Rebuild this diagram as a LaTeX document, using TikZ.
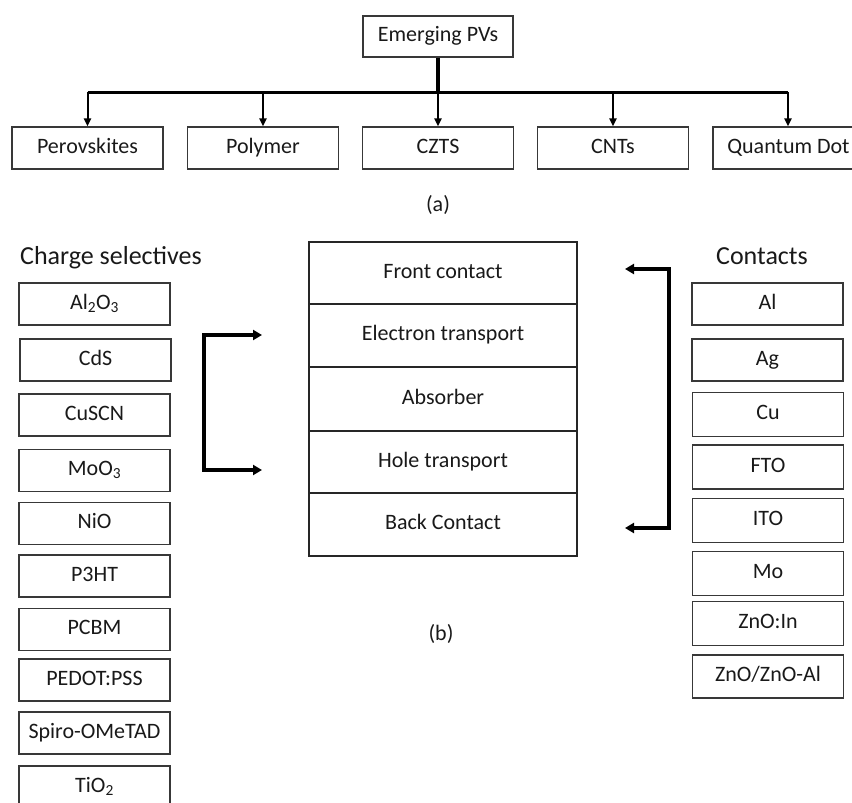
\documentclass[tikz,border=0pt]{standalone}
\usepackage{fontspec}
\setmainfont{Carlito}
\usetikzlibrary{arrows.meta}
\newcommand{\fsbox}{\fontsize{22}{26}\selectfont}
\newcommand{\fshead}{\fontsize{26}{30}\selectfont}
\begin{document}
\begin{tikzpicture}[x=1pt,y=-1pt,
  box/.style={draw=black!78,line width=1.2pt,minimum width=151pt,minimum height=42pt,inner sep=0pt,font=\fsbox,text=black!90,text height=14.5pt,text depth=4.5pt},
  layer/.style={draw=black!85,line width=1.3pt,minimum width=268pt,inner sep=0pt,font=\fsbox,text=black!90,text height=14.5pt,text depth=4.5pt},
  head/.style={font=\fshead,inner sep=0pt,text=black!90,text height=17pt,text depth=5pt},
  lab/.style={font=\fsbox,inner sep=0pt,text=black!90},
  trunk/.style={line width=3.5pt},
  arr/.style={line width=2pt,-{Triangle[length=8pt,width=7pt]}},
  brk/.style={line width=3.5pt,{Triangle[length=9pt,width=10pt]}-{Triangle[length=9pt,width=10pt]}}
]
\clip (0,0) rectangle (852,803);
% (a) tree
\node[box,minimum width=150pt,minimum height=41pt] (em) at (438,36.5) {Emerging PVs};
\node[box] (p1) at (87.5,148) {Perovskites};
\node[box] (p2) at (263,148) {Polymer};
\node[box] (p3) at (438,148) {CZTS};
\node[box] (p4) at (613,148) {CNTs};
\node[box,minimum width=160pt] (p5) at (793,148) {\hspace*{-9pt}Quantum Dot};
\coordinate (bus) at (438,92);
\draw[trunk] (em.south) -- (bus);
\draw[line width=3pt] (p1.north |- bus) -- ([xshift=-5pt]p5.north |- bus);
\foreach \n in {p1,p2,p3,p4} \draw[arr] (\n.north |- bus) -- (\n.north);
\draw[arr] ([xshift=-5pt]p5.north |- bus) -- ([xshift=-5pt]p5.north);
\node[lab] (la) at (438,205) {(a)};
% (b) headers
\node[head] (hcs) at (111,258) {Charge selectives};
\node[head] (hct) at (762,258) {Contacts};
% left column
\node[box] (c1) at (94.5,304) {Al\textsubscript{2}O\textsubscript{3}};
\node[box] (c2) at (95.5,360) {CdS};
\node[box] (c3) at (94.5,415) {CuSCN};
\node[box] (c4) at (94.5,470.5) {MoO\textsubscript{3}};
\node[box] (c5) at (94.5,523.5) {NiO};
\node[box] (c6) at (94.5,576) {P3HT};
\node[box] (c7) at (94.5,629.5) {PCBM};
\node[box] (c8) at (94.5,680) {PEDOT:PSS};
\node[box] (c9) at (94.5,733) {Spiro-OMeTAD};
\node[box] (c10) at (94.5,787) {TiO\textsubscript{2}};
% right column
\node[box] (k1) at (767.5,304) {Al};
\node[box] (k2) at (767.5,360) {Ag};
\node[box,minimum height=44pt] (k3) at (768,414.5) {Cu};
\node[box,minimum height=44pt] (k4) at (768,467) {FTO};
\node[box,minimum height=44pt] (k5) at (768,520.5) {ITO};
\node[box,minimum height=44pt] (k6) at (768,573.5) {Mo};
\node[box,minimum height=44pt] (k7) at (768,623.5) {ZnO:In};
\node[box,minimum height=43pt] (k8) at (768,676.5) {ZnO/ZnO-Al};
% stack
\node[layer,minimum height=62pt] (s1) at (443,273) {Front contact};
\node[layer,minimum height=63pt] (s2) at (443,335.5) {Electron transport};
\node[layer,minimum height=64pt] (s3) at (443,399) {Absorber};
\node[layer,minimum height=62pt] (s4) at (443,462) {Hole transport};
\node[layer,minimum height=63pt] (s5) at (443,524.5) {Back Contact};
\node[lab] (lb) at (441,634) {(b)};
% left bracket
\coordinate (la1) at (262,335);
\coordinate (la2) at (204,335);
\coordinate (la3) at (204,470);
\coordinate (la4) at (262,470);
\draw[brk] (la1) -- (la2) -- (la3) -- (la4);
% right bracket
\coordinate (ra1) at (625,269);
\coordinate (ra2) at (669,269);
\coordinate (ra3) at (669,528);
\coordinate (ra4) at (625,528);
\draw[brk] (ra1) -- (ra2) -- (ra3) -- (ra4);
\end{tikzpicture}
\end{document}
